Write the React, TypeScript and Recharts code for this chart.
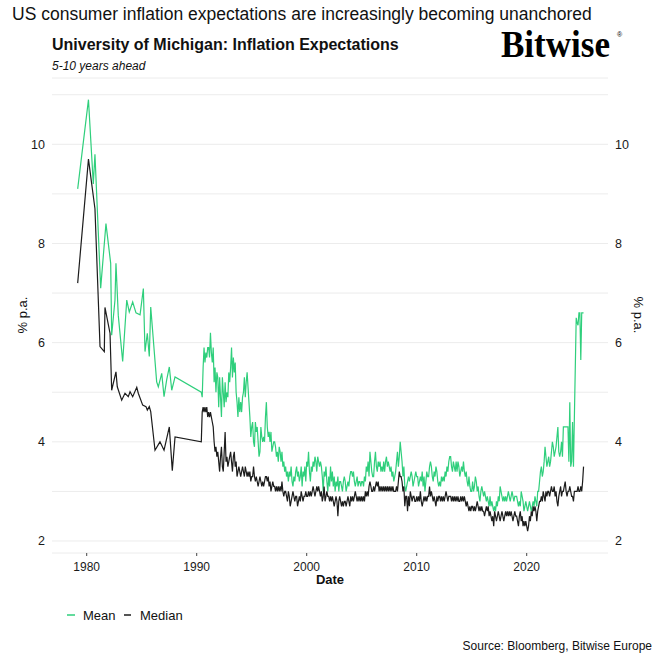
import React from 'react';
import { LineChart, Line, XAxis, YAxis, CartesianGrid } from 'recharts';

// ---------- tick labels ----------
const xTicks = [1980, 1990, 2000, 2010, 2020];
const yTicks = [2, 3, 4, 5, 6, 7, 8, 9, 10, 11];

// ---------- early (irregular) survey readings, decimal years ----------
const meanEarlyDates = [
  1979.18, 1980.16, 1980.6, 1980.75, 1981.27, 1981.75, 1982.18, 1982.27, 1982.57, 1982.66,
  1982.87, 1983.27, 1983.64, 1983.87, 1984.18, 1984.48, 1984.85, 1985.15, 1985.3, 1985.51,
  1985.69, 1985.82, 1986.36, 1986.51, 1986.82, 1987.03, 1987.27, 1987.51, 1987.73, 1988.03,
];
const meanEarlyValues = [
  9.1, 10.9, 9.2, 9.8, 7.1, 8.4, 7.6, 6.15, 6.86, 7.6,
  6.55, 5.62, 6.86, 6.62, 6.82, 6.6, 6.56, 7.09, 5.82, 6.19,
  5.72, 6.72, 5.21, 5.11, 5.38, 4.91, 5.25, 5.51, 5.04, 5.31,
];
const medianEarlyDates = [
  1979.18, 1980.16, 1980.75, 1981.21, 1981.6, 1981.66, 1982.12, 1982.27, 1982.66, 1982.78,
  1983.18, 1983.48, 1983.78, 1983.94, 1984.18, 1984.55, 1984.69, 1985.09, 1985.39, 1985.51,
  1985.69, 1985.82, 1986.21, 1986.66, 1987.03, 1987.51, 1987.78, 1988.03,
];
const medianEarlyValues = [
  7.2, 9.7, 8.7, 5.92, 5.82, 6.71, 6.19, 5.04, 5.41, 5.11,
  4.84, 4.98, 4.91, 5.01, 4.91, 5.1, 4.98, 4.74, 4.71, 4.64,
  4.71, 4.61, 3.83, 4.0, 3.83, 4.3, 3.42, 4.1,
];

// ---------- monthly readings from May 1990 to Feb 2025 ----------
const monthlyStartYear = 1990;
const monthlyStartMonth = 4; // 0-based: May

const meanMonthly: (number | null)[] = [
  5.0, 4.9, 5.5, 5.9, 5.6, 5.8, 5.7, 5.9, // 1990 May-Dec
  5.9, 5.7, 6.2, 5.8, 5.6, 5.9, 5.2, 5.5, 5.0, 5.4, 5.3, 4.7, // 1991
  5.3, 4.9, 4.5, 5.3, 5.0, 4.7, 5.2, 4.8, 5.0, 4.9, 5.4, 5.2, // 1992
  5.5, 5.9, 5.3, 5.7, 5.4, 5.6, 5.0, 4.8, 4.5, 4.9, 4.6, 4.8, // 1993
  4.6, 4.9, 5.0, 5.3, 4.9, 5.2, 5.4, 5.1, 4.8, 4.5, 4.1, 4.3, // 1994
  4.4, 4.0, 3.9, 4.4, 4.2, 4.3, 4.0, 3.7, 3.8, 4.3, 4.1, 4.0, // 1995
  4.1, 4.0, 4.5, 4.8, 4.3, 4.1, 4.2, 4.0, 4.2, 3.8, 3.9, 4.0, // 1996
  4.0, 3.9, 3.7, 3.8, 3.6, 3.9, 3.8, 3.6, 3.8, 3.5, 3.6, 3.4, // 1997
  3.5, 3.3, 3.4, 3.2, 3.4, 3.3, 3.5, 3.2, 3.1, 3.3, 3.2, 3.4, // 1998
  3.5, 3.3, 3.4, 3.2, 3.3, 3.5, 3.1, 3.4, 3.3, 3.5, 3.2, 3.6, // 1999
  3.5, 3.8, 3.4, 3.2, 3.5, 3.4, 3.6, 3.5, 3.7, 3.6, 3.4, 3.7, // 2000
  3.6, 3.5, 3.6, 3.5, 3.3, 3.0, 3.4, 3.3, 3.5, 3.2, 3.0, 3.3, // 2001
  3.1, 3.5, 3.2, 3.4, 3.1, 3.3, 3.0, 3.2, 3.1, 3.3, 3.0, 3.2, // 2002
  3.2, 3.1, 3.0, 3.2, 3.3, 3.2, 3.0, 3.1, 3.2, 3.1, 3.3, 3.4, // 2003
  3.4, 3.3, 3.4, 3.2, 3.1, 3.2, 3.3, 3.1, 3.2, 3.2, 3.1, 3.2, // 2004
  3.2, 3.1, 3.3, 3.2, 3.5, 3.4, 3.6, 3.3, 3.8, 3.6, 3.4, 3.3, // 2005
  3.3, 3.6, 3.8, 3.5, 3.4, 3.6, 3.5, 3.6, 3.4, 3.5, 3.4, 3.6, // 2006
  3.4, 3.6, 3.7, 3.5, 3.6, 3.5, 3.4, 3.5, 3.3, 3.4, 3.2, 3.3, // 2007
  3.4, 3.6, 3.8, 3.5, 3.7, 4.0, 3.8, 3.6, 3.3, 3.5, 3.1, 3.0, // 2008
  3.1, 3.2, 3.3, 3.2, 3.3, 3.4, 3.3, 3.1, 3.2, 3.3, 3.4, 3.3, // 2009
  3.3, 3.1, 3.2, 3.3, 3.2, 3.4, 3.1, 3.3, 3.0, 3.2, 3.4, 3.3, // 2010
  3.3, 3.5, 3.6, 3.5, 3.3, 3.2, 3.4, 3.3, 3.5, 3.4, 3.2, 3.1, // 2011
  3.2, 3.1, 3.3, 3.2, 3.3, 3.2, 3.4, 3.3, 3.5, 3.4, 3.6, 3.7, // 2012
  3.7, 3.5, 3.4, 3.6, 3.5, 3.4, 3.6, 3.4, 3.6, 3.5, 3.3, 3.4, // 2013
  3.5, 3.4, 3.6, 3.4, 3.3, 3.4, 3.2, 3.1, 3.3, 3.1, 3.0, 3.0, // 2014
  3.2, 3.0, 3.1, 3.3, 3.2, 3.0, 3.1, 2.9, 2.8, 3.0, 3.1, 3.0, // 2015
  2.9, 3.0, 2.9, 2.8, 2.9, 2.8, 2.7, 2.9, 2.7, 2.8, 2.7, 2.6, // 2016
  2.7, 2.6, 2.8, 2.7, 2.9, 2.8, 3.1, 3.0, 2.9, 2.8, 2.9, 2.8, // 2017
  2.9, 2.8, 2.9, 3.0, 2.9, 2.8, 2.9, 3.0, 2.9, 2.8, 2.9, 2.9, // 2018
  2.9, 2.8, 2.7, 2.8, 2.7, 3.0, 2.9, 2.8, 2.6, 2.7, 2.8, 2.7, // 2019
  2.6, 2.7, 2.8, 2.7, 2.6, 2.7, 2.8, 2.7, 2.9, 2.8, 2.7, 3.0, // 2020
  3.0, 3.2, 3.4, 3.5, 3.3, 3.4, 3.6, 3.9, 3.7, 3.5, 3.6, 3.7, // 2021
  3.5, 3.6, 3.8, 4.0, 3.9, 3.7, 3.8, 3.9, 4.1, 4.3, 3.8, 3.7, // 2022
  3.8, 4.0, 3.7, 4.3, 4.3, 4.3, 4.3, 4.3, 4.3, 3.6, 4.8, 3.5, // 2023
  3.6, 4.4, 3.5, null, null, 6.5, 6.4, 6.35, 6.6, 6.6, 5.65, 6.6, // 2024
  6.6, 6.6, // 2025 Jan-Feb
];

const medianMonthly: (number | null)[] = [
  4.0, 4.6, 4.7, 4.6, 4.7, 4.6, 4.7, 4.5, // 1990 May-Dec
  4.6, 4.5, 4.6, 4.5, 4.4, 4.3, 4.0, 3.8, 3.9, 3.7, 3.8, 3.6, // 1991
  3.4, 3.7, 3.9, 3.5, 3.4, 3.8, 4.2, 3.6, 3.7, 3.5, 3.6, 3.7, // 1992
  3.8, 3.6, 3.4, 3.7, 3.8, 3.5, 3.6, 3.3, 3.4, 3.5, 3.4, 3.3, // 1993
  3.4, 3.5, 3.4, 3.3, 3.5, 3.4, 3.3, 3.4, 3.3, 3.4, 3.2, 3.3, // 1994
  3.3, 3.5, 3.3, 3.2, 3.3, 3.2, 3.1, 3.2, 3.3, 3.2, 3.1, 3.2, // 1995
  3.1, 3.2, 3.3, 3.3, 3.2, 3.3, 3.1, 3.2, 3.0, 3.1, 3.2, 3.1, // 1996
  3.1, 3.0, 3.1, 3.0, 3.1, 3.0, 3.1, 3.0, 3.2, 3.0, 2.9, 3.0, // 1997
  3.0, 2.9, 2.8, 3.0, 2.9, 2.7, 2.8, 2.9, 3.0, 2.9, 2.8, 2.9, // 1998
  2.9, 2.7, 2.8, 2.9, 2.8, 3.0, 2.9, 2.8, 2.9, 2.9, 3.0, 2.9, // 1999
  2.9, 3.0, 2.9, 3.0, 2.9, 3.0, 3.1, 3.0, 2.9, 3.0, 3.1, 3.0, // 2000
  3.1, 3.0, 2.9, 3.0, 2.8, 2.9, 3.1, 2.8, 2.9, 3.0, 2.9, 2.9, // 2001
  2.8, 2.9, 2.8, 2.9, 2.8, 2.7, 2.8, 2.9, 2.8, 2.5, 2.8, 2.9, // 2002
  2.8, 2.7, 2.8, 2.7, 2.8, 2.8, 2.7, 2.8, 2.9, 2.8, 2.7, 2.9, // 2003
  2.8, 2.9, 2.8, 2.9, 3.0, 2.9, 2.8, 2.9, 2.8, 2.9, 2.8, 2.9, // 2004
  2.8, 2.9, 2.8, 3.0, 2.9, 3.0, 2.9, 3.1, 3.2, 3.1, 3.0, 3.0, // 2005
  3.1, 3.0, 3.1, 3.2, 3.1, 3.2, 3.0, 3.1, 3.0, 3.1, 3.0, 3.1, // 2006
  3.0, 3.1, 3.0, 3.1, 3.0, 3.1, 3.0, 3.1, 3.0, 3.1, 3.0, 3.0, // 2007
  3.0, 3.1, 3.0, 3.2, 3.4, 3.3, 3.3, 3.2, 3.0, 3.1, 2.7, 2.9, // 2008
  2.9, 2.6, 2.9, 2.7, 3.0, 2.9, 2.8, 2.9, 2.9, 2.8, 2.8, 2.9, // 2009
  2.8, 2.9, 2.8, 3.0, 2.8, 2.7, 2.8, 2.9, 2.8, 2.9, 2.8, 2.9, // 2010
  2.9, 3.1, 2.9, 3.0, 2.9, 2.8, 2.9, 2.8, 2.7, 2.9, 2.8, 2.9, // 2011
  2.9, 2.8, 2.9, 2.8, 2.9, 2.8, 2.9, 3.0, 2.9, 2.8, 2.9, 2.9, // 2012
  2.9, 2.8, 2.9, 2.8, 2.9, 2.8, 2.9, 2.8, 2.9, 2.8, 2.8, 2.9, // 2013
  2.8, 2.9, 2.8, 2.9, 2.8, 2.7, 2.8, 2.7, 2.6, 2.7, 2.6, 2.7, // 2014
  2.7, 2.6, 2.7, 2.6, 2.7, 2.8, 2.7, 2.6, 2.7, 2.6, 2.7, 2.6, // 2015
  2.6, 2.5, 2.6, 2.7, 2.6, 2.7, 2.5, 2.6, 2.5, 2.4, 2.5, 2.3, // 2016
  2.6, 2.5, 2.4, 2.5, 2.6, 2.5, 2.4, 2.5, 2.6, 2.5, 2.4, 2.5, // 2017
  2.6, 2.5, 2.6, 2.5, 2.6, 2.5, 2.6, 2.5, 2.4, 2.5, 2.6, 2.5, // 2018
  2.5, 2.4, 2.3, 2.5, 2.6, 2.4, 2.5, 2.3, 2.4, 2.3, 2.4, 2.3, // 2019
  2.2, 2.3, 2.5, 2.4, 2.6, 2.5, 2.7, 2.6, 2.7, 2.6, 2.4, 2.6, // 2020
  2.7, 2.8, 2.8, 2.9, 2.8, 3.0, 2.9, 2.8, 3.0, 2.9, 3.0, 3.0, // 2021
  2.9, 3.0, 3.1, 3.0, 3.0, 3.1, 2.9, 3.0, 2.8, 2.7, 2.9, 3.0, // 2022
  3.1, 2.9, 3.0, 3.0, 3.1, 3.2, 3.0, 2.9, 3.0, 3.0, 3.1, 3.0, // 2023
  2.9, 2.9, 2.8, 3.0, 3.0, 3.0, 3.0, 3.1, 3.0, 3.0, 3.1, 3.0, // 2024
  3.2, 3.5, // 2025 Jan-Feb
];

// ---------- build series ----------
type Pt = { x: number; v: number | null };

function monthlyToPoints(values: (number | null)[]): Pt[] {
  return values.map((v, i) => {
    const mi = monthlyStartMonth + i;
    const year = monthlyStartYear + Math.floor(mi / 12);
    const m = mi % 12;
    return { x: year + (m + 1) / 12, v };
  });
}

function pairs(dates: number[], values: number[]): Pt[] {
  return dates.map((d, i) => ({ x: d, v: values[i] }));
}

const meanData: Pt[] = [...pairs(meanEarlyDates, meanEarlyValues), ...monthlyToPoints(meanMonthly)];
const medianData: Pt[] = [...pairs(medianEarlyDates, medianEarlyValues), ...monthlyToPoints(medianMonthly)];

const GREEN = '#2fcf7c';
const DARK = '#1c1c1c';
const FONT = '"Liberation Sans", Arial, Helvetica, sans-serif';

const yFmt = (v: number) => (v % 2 === 0 ? String(v) : '');

export default function App() {
  return (
    <div style={{ position: 'absolute', left: 0, top: 0, width: 661, height: 661, background: '#fff' }}>
      <LineChart
        width={661}
        height={661}
        margin={{ top: 78, right: 0, bottom: 78, left: 0 }}
      >
        <CartesianGrid vertical={false} stroke="#ececec" strokeWidth={1} />
        <XAxis
          dataKey="x"
          type="number"
          domain={[1976.845, 2027.39]}
          allowDataOverflow
          ticks={xTicks}
          height={30}
          axisLine={false}
          tickLine={{ stroke: '#444', strokeWidth: 1 }}
          tickSize={3}
          tickMargin={6}
          tick={{ fontSize: 12, fill: '#1a1a1a', fontFamily: FONT }}
        />
        <YAxis
          type="number"
          domain={[1.758, 11.337]}
          allowDataOverflow
          ticks={yTicks}
          interval={0}
          tickFormatter={yFmt}
          width={52}
          axisLine={false}
          tickLine={false}
          tickSize={0}
          tickMargin={7}
          tick={{ fontSize: 12.5, fill: '#1a1a1a', fontFamily: FONT }}
        />
        <YAxis
          yAxisId="right"
          orientation="right"
          type="number"
          domain={[1.758, 11.337]}
          allowDataOverflow
          ticks={yTicks}
          interval={0}
          tickFormatter={yFmt}
          width={53}
          axisLine={false}
          tickLine={false}
          tickSize={0}
          tickMargin={7}
          tick={{ fontSize: 12.5, fill: '#1a1a1a', fontFamily: FONT }}
        />
        <Line
          data={meanData}
          dataKey="v"
          type="linear"
          stroke={GREEN}
          strokeWidth={1.2}
          dot={false}
          activeDot={false}
          connectNulls
          isAnimationActive={false}
        />
        <Line
          data={medianData}
          dataKey="v"
          type="linear"
          stroke={DARK}
          strokeWidth={1.2}
          dot={false}
          activeDot={false}
          connectNulls
          isAnimationActive={false}
        />
      </LineChart>

      <svg
        width={661}
        height={661}
        style={{ position: 'absolute', left: 0, top: 0, pointerEvents: 'none' }}
      >
        <text x={12} y={20} fontFamily={FONT} fontSize={17.5} fill="#111">
          US consumer inflation expectations are increasingly becoming unanchored
        </text>
        <text x={52} y={50} fontFamily={FONT} fontSize={16} fontWeight="bold" fill="#111">
          University of Michigan: Inflation Expectations
        </text>
        <text x={52} y={70} fontFamily={FONT} fontSize={12} fontStyle="italic" fill="#111">
          5-10 years ahead
        </text>
        <text
          x={501}
          y={57}
          fontFamily='"Liberation Serif", "Times New Roman", serif'
          fontSize={37}
          fontWeight="bold"
          textLength={109}
          lengthAdjust="spacingAndGlyphs"
          fill="#000"
        >
          Bitwise
        </text>
        <text x={617} y={37} fontFamily={FONT} fontSize={7} fill="#000">®</text>

        <text
          transform="translate(22,315) rotate(-90)"
          textAnchor="middle"
          dominantBaseline="central"
          fontFamily={FONT}
          fontSize={13}
          fill="#111"
        >
          % p.a.
        </text>
        <text
          transform="translate(638,315) rotate(90)"
          textAnchor="middle"
          dominantBaseline="central"
          fontFamily={FONT}
          fontSize={13}
          fill="#111"
        >
          % p.a.
        </text>

        <text x={330} y={584} textAnchor="middle" fontFamily={FONT} fontSize={13} fontWeight="bold" fill="#111">
          Date
        </text>

        <line x1={67} y1={615} x2={75} y2={615} stroke={GREEN} strokeWidth={1.5} />
        <text x={83} y={620} fontFamily={FONT} fontSize={13} fill="#111">Mean</text>
        <line x1={124} y1={615} x2={131} y2={615} stroke={DARK} strokeWidth={1.5} />
        <text x={140} y={620} fontFamily={FONT} fontSize={13} fill="#111">Median</text>

        <text x={652} y={650} textAnchor="end" fontFamily={FONT} fontSize={12} fill="#111">
          Source: Bloomberg, Bitwise Europe
        </text>
      </svg>
    </div>
  );
}
